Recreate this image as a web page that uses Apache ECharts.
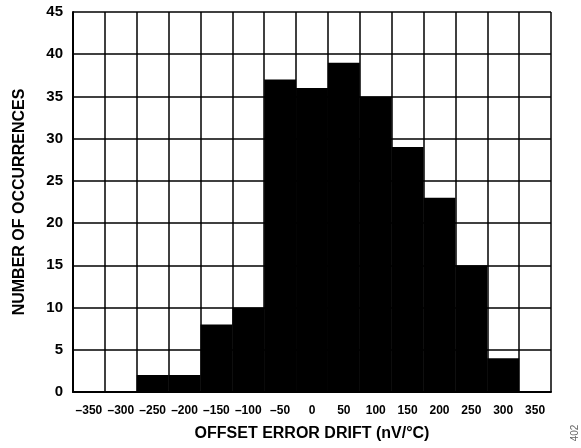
<!DOCTYPE html>
<html>
<head>
<meta charset="utf-8">
<script src="https://cdn.jsdelivr.net/npm/echarts@6/dist/echarts.min.js"></script>
<style>
html,body{margin:0;padding:0;background:#fff;}
#c{width:581px;height:448px;}
</style>
</head>
<body>
<div id="c"></div>
<script>
var categories = ['–350','–300','–250','–200','–150','–100','–50','0','50','100','150','200','250','300','350'];
var counts = [0, 0, 2, 2, 8, 10, 37, 36, 39, 35, 29, 23, 15, 4, 0];
var yTicks = {min: 0, max: 45, interval: 5};
var xTitle = 'OFFSET ERROR DRIFT (nV/°C)';
var yTitle = 'NUMBER OF OCCURRENCES';
var figId = '402';

var font = '"Liberation Sans", Arial, Helvetica, sans-serif';
var chart = echarts.init(document.getElementById('c'), null, {renderer: 'canvas'});
chart.setOption({
  animation: false,
  backgroundColor: '#fff',
  grid: {left: 73, right: 30, top: 12, bottom: 56, containLabel: false},
  xAxis: {
    type: 'category',
    data: categories,
    boundaryGap: true,
    name: xTitle,
    nameLocation: 'middle',
    nameGap: 34,
    nameTextStyle: {fontFamily: font, fontWeight: 'bold', fontSize: 16, color: '#000'},
    axisLine: {show: true, lineStyle: {color: '#000', width: 2}},
    axisTick: {show: false},
    axisLabel: {fontFamily: font, fontWeight: 'bold', fontSize: 12, color: '#000', margin: 13, interval: 0},
    splitLine: {show: true, interval: 0, lineStyle: {color: '#000', width: 1.5}}
  },
  yAxis: {
    type: 'value',
    min: yTicks.min, max: yTicks.max, interval: yTicks.interval,
    name: yTitle,
    nameLocation: 'middle',
    nameGap: 45,
    nameTextStyle: {fontFamily: font, fontWeight: 'bold', fontSize: 16, color: '#000'},
    axisLine: {show: true, lineStyle: {color: '#000', width: 2}},
    axisTick: {show: false},
    axisLabel: {fontFamily: font, fontWeight: 'bold', fontSize: 15, color: '#000', margin: 10},
    splitLine: {show: true, lineStyle: {color: '#000', width: 1.5}}
  },
  series: [{
    type: 'bar',
    data: counts,
    barWidth: '100%',
    barCategoryGap: 0,
    itemStyle: {color: '#000'},
    z: 3
  }],
  graphic: [{
    type: 'text',
    x: 575, y: 433,
    rotation: Math.PI / 2,
    style: {text: figId, fontFamily: font, fontSize: 10, fill: '#666', align: 'center', verticalAlign: 'middle'}
  }]
});
</script>
</body>
</html>
